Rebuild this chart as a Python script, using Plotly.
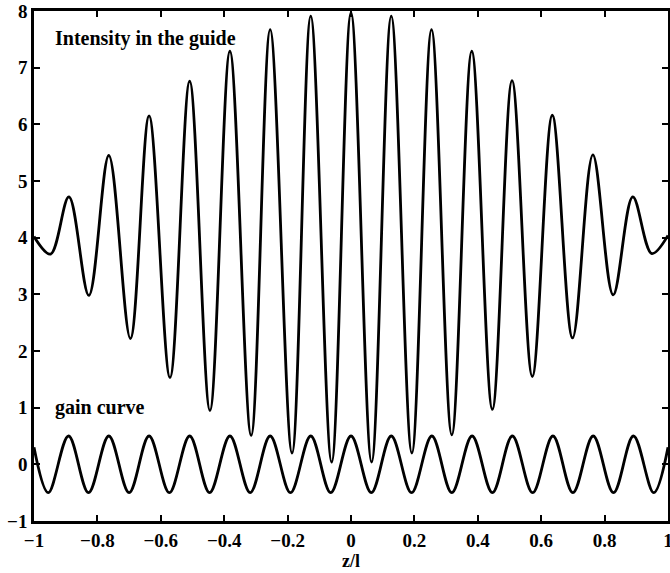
import plotly.graph_objects as go

# Intensity in the guide: extrema (x in z/l, y)
int_x = [-1.0, -0.948, -0.890, -0.827, -0.764, -0.696, -0.637, -0.571, -0.509,
         -0.445, -0.382, -0.315, -0.255, -0.186, -0.127, -0.061, 0.0,
         0.065, 0.127, 0.192, 0.254, 0.318, 0.381, 0.446, 0.508, 0.572,
         0.635, 0.699, 0.763, 0.827, 0.889, 0.949, 1.0]
int_y = [4.02, 3.71, 4.72, 2.98, 5.45, 2.22, 6.15, 1.53, 6.76,
         0.95, 7.29, 0.51, 7.67, 0.20, 7.91, 0.04, 7.97,
         0.04, 7.91, 0.20, 7.67, 0.52, 7.29, 0.97, 6.77, 1.55,
         6.16, 2.23, 5.46, 2.99, 4.72, 3.72, 4.04]

# Gain curve: extrema
gain_x = [-1.0, -0.955, -0.891, -0.828, -0.764, -0.700, -0.637, -0.573, -0.509,
          -0.446, -0.382, -0.318, -0.255, -0.191, -0.127, -0.064, 0.0,
          0.064, 0.127, 0.191, 0.255, 0.318, 0.382, 0.446, 0.509, 0.573,
          0.637, 0.700, 0.764, 0.828, 0.891, 0.955, 1.0]
gain_y = [0.30, -0.5, 0.5, -0.5, 0.5, -0.5, 0.5, -0.5, 0.5,
          -0.5, 0.5, -0.5, 0.5, -0.5, 0.5, -0.5, 0.5,
          -0.5, 0.5, -0.5, 0.5, -0.5, 0.5, -0.5, 0.5, -0.5,
          0.5, -0.5, 0.5, -0.5, 0.5, -0.5, 0.30]

x_ticks = [-1, -0.8, -0.6, -0.4, -0.2, 0, 0.2, 0.4, 0.6, 0.8, 1]
x_tick_text = ["\u22121", "\u22120.8", "\u22120.6", "\u22120.4", "\u22120.2", "0",
               "0.2", "0.4", "0.6", "0.8", "1"]
y_ticks = [-1, 0, 1, 2, 3, 4, 5, 6, 7, 8]
y_tick_text = ["\u22121", "0", "1", "2", "3", "4", "5", "6", "7", "8"]

FONT = "Liberation Serif"

fig = go.Figure()
fig.add_trace(go.Scatter(x=int_x, y=int_y, mode="lines",
                         line=dict(color="black", width=2.8, shape="spline", smoothing=1.0),
                         showlegend=False, hoverinfo="skip"))
fig.add_trace(go.Scatter(x=gain_x, y=gain_y, mode="lines",
                         line=dict(color="black", width=2.8, shape="spline", smoothing=1.0),
                         showlegend=False, hoverinfo="skip"))

fig.add_annotation(x=-0.94, y=7.52, text="<b>Intensity in the guide</b>", showarrow=False,
                   xanchor="left", yanchor="middle", font=dict(family=FONT, size=20, color="black"))
fig.add_annotation(x=-0.94, y=1.01, text="<b>gain curve</b>", showarrow=False,
                   xanchor="left", yanchor="middle", font=dict(family=FONT, size=20, color="black"))

fig.update_layout(
    width=670, height=573,
    margin=dict(l=34, r=2, t=11, b=52),
    paper_bgcolor="white", plot_bgcolor="white",
    font=dict(family=FONT, color="black"),
)
fig.update_xaxes(range=[-1, 1], tickvals=x_ticks, ticktext=x_tick_text,
                 ticks="inside", ticklen=6, tickwidth=1.5, tickcolor="black",
                 showline=True, linecolor="black", linewidth=2.5, mirror="ticks",
                 showgrid=False, zeroline=False, automargin=False,
                 ticklabeloverflow="allow",
                 tickfont=dict(family=FONT, size=19, color="black", weight="bold"),
                 title=dict(text="<b>z/l</b>", font=dict(family=FONT, size=18, color="black"),
                            standoff=2))
fig.update_yaxes(range=[-1, 8], tickvals=y_ticks, ticktext=y_tick_text,
                 ticks="inside", ticklen=6, tickwidth=1.5, tickcolor="black",
                 showline=True, linecolor="black", linewidth=2.5, mirror="ticks",
                 showgrid=False, zeroline=False, automargin=False,
                 ticklabeloverflow="allow",
                 tickfont=dict(family=FONT, size=19, color="black", weight="bold"))

fig.write_html("out.html", config={"displayModeBar": False},
               post_script="document.body.style.margin='0';")
